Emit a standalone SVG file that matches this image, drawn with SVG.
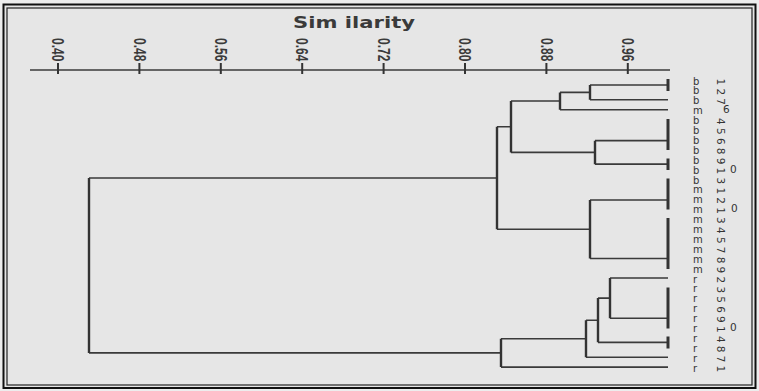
<svg xmlns="http://www.w3.org/2000/svg" width="759" height="391" viewBox="0 0 759 391">
<style>
.bg{fill:#e6e6e6}
.frame-o{fill:none;stroke:#111;stroke-width:2}
.frame-i{fill:none;stroke:#222;stroke-width:1.2}
.ax{stroke:#3a3a3a;stroke-width:1.6;fill:none}
.tk{stroke:#333;stroke-width:2}
.tl{font-family:"Liberation Sans",sans-serif;font-size:12px;font-weight:bold;fill:#3a3a3a}
.ttl{font-family:"DejaVu Sans",sans-serif;font-size:15px;font-weight:bold;fill:#3a3a3a}
.h{stroke:#3a3a3a;stroke-width:1.6;fill:none}
.v{stroke:#333;stroke-width:2.4;fill:none}
.bar{stroke:#333;stroke-width:3;fill:none}
.lb{font-family:"DejaVu Sans",sans-serif;font-size:10px;fill:#333}
.d{font-size:10.5px}
</style>
<rect x="0" y="0" width="759" height="391" fill="#ededed"/>
<rect class="bg" x="4" y="5" width="751" height="383"/>
<rect class="frame-o" x="3.5" y="4.5" width="752" height="383.5"/>
<rect class="frame-i" x="7" y="8" width="745" height="377"/>

<g id="axis">
<text class="ttl" x="293" y="28" textLength="122" lengthAdjust="spacingAndGlyphs">Sim ilarity</text>
<path class="ax" d="M30,70 H670"/>
<path class="tk" d="M58,63 V74 M139.4,63 V74 M220.8,63 V74 M302.2,63 V74 M383.6,63 V74 M465,63 V74 M546.4,63 V74 M627.8,63 V74"/>
<text class="tl" transform="translate(58,38) rotate(90) scale(1,1.4)" dominant-baseline="central">0.40</text>
<text class="tl" transform="translate(139.4,38) rotate(90) scale(1,1.4)" dominant-baseline="central">0.48</text>
<text class="tl" transform="translate(220.8,38) rotate(90) scale(1,1.4)" dominant-baseline="central">0.56</text>
<text class="tl" transform="translate(302.2,38) rotate(90) scale(1,1.4)" dominant-baseline="central">0.64</text>
<text class="tl" transform="translate(383.6,38) rotate(90) scale(1,1.4)" dominant-baseline="central">0.72</text>
<text class="tl" transform="translate(465,38) rotate(90) scale(1,1.4)" dominant-baseline="central">0.80</text>
<text class="tl" transform="translate(546.4,38) rotate(90) scale(1,1.4)" dominant-baseline="central">0.88</text>
<text class="tl" transform="translate(627.8,38) rotate(90) scale(1,1.4)" dominant-baseline="central">0.96</text>
</g>

<g id="connectors">
<path class="h" d="M89,178 H497 M89,352.9 H501
M497,126.7 H511 M497,229.27 H590
M511,101.05 H560 M511,152.4 H595
M560,92.4 H590 M560,109.7 H668
M590,85 H668 M590,99.8 H668
M595,140.64 H668 M595,164.15 H668
M590,200 H668 M590,258.51 H668
M501,338.7 H586 M501,367.1 H668
M586,320.23 H598 M586,357.2 H668
M598,298.11 H610 M598,342.35 H668
M610,278 H668 M610,318.22 H668"/>
<path class="v" d="M89,178 V352.9 M497,126.7 V229.27 M511,101.05 V152.4 M560,92.4 V109.7 M590,85 V99.8 M595,140.64 V164.15 M590,200 V258.51 M501,338.7 V367.1 M586,320.23 V357.2 M598,298.11 V342.35 M610,278 V318.22"/>
<path class="bar" d="M668,79 V91 M668,119 V150 M668,158.5 V170 M668,178.5 V209.5 M668,218 V269 M668,287.5 V328.5 M668,336.5 V348.5"/>
</g>

<g id="leaf-b1"><text class="lb" x="693" y="84.5">b<tspan class="d" x="717" y="78.5" rotate="90">1</tspan></text></g>
<g id="leaf-b2"><text class="lb" x="693" y="94.4">b<tspan class="d" x="717" y="88.4" rotate="90">2</tspan></text></g>
<g id="leaf-b7"><text class="lb" x="693" y="104.3">b<tspan class="d" x="717" y="98.3" rotate="90">7</tspan></text></g>
<g id="leaf-m6"><text class="lb" x="693" y="114.2">m<tspan class="d" x="723" y="113.2">6</tspan></text></g>
<g id="leaf-b4"><text class="lb" x="693" y="124.1">b<tspan class="d" x="717" y="118.1" rotate="90">4</tspan></text></g>
<g id="leaf-b5"><text class="lb" x="693" y="134">b<tspan class="d" x="717" y="128" rotate="90">5</tspan></text></g>
<g id="leaf-b6"><text class="lb" x="693" y="143.9">b<tspan class="d" x="717" y="137.9" rotate="90">6</tspan></text></g>
<g id="leaf-b8"><text class="lb" x="693" y="153.8">b<tspan class="d" x="717" y="147.8" rotate="90">8</tspan></text></g>
<g id="leaf-b9"><text class="lb" x="693" y="163.7">b<tspan class="d" x="717" y="157.7" rotate="90">9</tspan></text></g>
<g id="leaf-b10"><text class="lb" x="693" y="173.6">b<tspan class="d" x="717" y="167.6" rotate="90">1</tspan><tspan class="d" x="730" y="172.6" rotate="0">0</tspan></text></g>
<g id="leaf-b3"><text class="lb" x="693" y="183.5">b<tspan class="d" x="717" y="177.5" rotate="90">3</tspan></text></g>
<g id="leaf-m1"><text class="lb" x="693" y="193.4">m<tspan class="d" x="717" y="187.4" rotate="90">1</tspan></text></g>
<g id="leaf-m2"><text class="lb" x="693" y="203.3">m<tspan class="d" x="717" y="197.3" rotate="90">2</tspan></text></g>
<g id="leaf-m10"><text class="lb" x="693" y="213.2">m<tspan class="d" x="717" y="207.2" rotate="90">1</tspan><tspan class="d" x="731" y="212.2" rotate="0">0</tspan></text></g>
<g id="leaf-m3"><text class="lb" x="693" y="223.1">m<tspan class="d" x="717" y="217.1" rotate="90">3</tspan></text></g>
<g id="leaf-m4"><text class="lb" x="693" y="233">m<tspan class="d" x="717" y="227" rotate="90">4</tspan></text></g>
<g id="leaf-m5"><text class="lb" x="693" y="242.9">m<tspan class="d" x="717" y="236.9" rotate="90">5</tspan></text></g>
<g id="leaf-m7"><text class="lb" x="693" y="252.8">m<tspan class="d" x="717" y="246.8" rotate="90">7</tspan></text></g>
<g id="leaf-m8"><text class="lb" x="693" y="262.7">m<tspan class="d" x="717" y="256.7" rotate="90">8</tspan></text></g>
<g id="leaf-m9"><text class="lb" x="693" y="272.6">m<tspan class="d" x="717" y="266.6" rotate="90">9</tspan></text></g>
<g id="leaf-r2"><text class="lb" x="693" y="282.5">r<tspan class="d" x="717" y="276.5" rotate="90">2</tspan></text></g>
<g id="leaf-r3"><text class="lb" x="693" y="292.4">r<tspan class="d" x="717" y="286.4" rotate="90">3</tspan></text></g>
<g id="leaf-r5"><text class="lb" x="693" y="302.3">r<tspan class="d" x="717" y="296.3" rotate="90">5</tspan></text></g>
<g id="leaf-r6"><text class="lb" x="693" y="312.2">r<tspan class="d" x="717" y="306.2" rotate="90">6</tspan></text></g>
<g id="leaf-r9"><text class="lb" x="693" y="322.1">r<tspan class="d" x="717" y="316.1" rotate="90">9</tspan></text></g>
<g id="leaf-r10"><text class="lb" x="693" y="332">r<tspan class="d" x="717" y="326" rotate="90">1</tspan><tspan class="d" x="730" y="331" rotate="0">0</tspan></text></g>
<g id="leaf-r4"><text class="lb" x="693" y="341.9">r<tspan class="d" x="717" y="335.9" rotate="90">4</tspan></text></g>
<g id="leaf-r8"><text class="lb" x="693" y="351.8">r<tspan class="d" x="717" y="345.8" rotate="90">8</tspan></text></g>
<g id="leaf-r7"><text class="lb" x="693" y="361.7">r<tspan class="d" x="717" y="355.7" rotate="90">7</tspan></text></g>
<g id="leaf-r1"><text class="lb" x="693" y="371.6">r<tspan class="d" x="717" y="365.6" rotate="90">1</tspan></text></g>
</svg>
